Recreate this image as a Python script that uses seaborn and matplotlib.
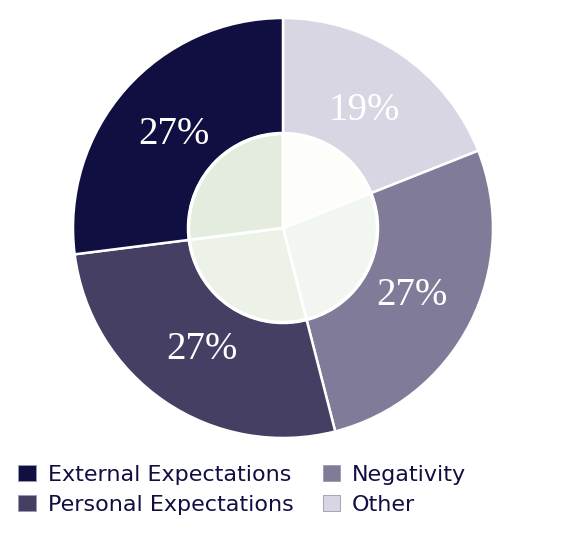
import matplotlib
matplotlib.use("Agg")
import matplotlib.pyplot as plt
import matplotlib.patches as mpatches
import seaborn as sns

# data, clockwise from 12 o'clock
categories = ["Other", "Negativity", "Personal Expectations", "External Expectations"]
shares = [19, 27, 27, 27]
inner_shares = [19, 27, 27, 27]
outer_colors = ["#d8d6e2", "#7f7b98", "#443f63", "#110e42"]
inner_colors = ["#fdfdfa", "#f2f6f0", "#ecf2e8", "#e4ecdf"]
legend_order = ["External Expectations", "Personal Expectations", "Negativity", "Other"]

sns.set_style("white")
plt.rcParams['font.family'] = ['DejaVu Sans']

fig = plt.figure(figsize=(5.8, 5.33), dpi=100)
ax = fig.add_axes([73 / 580, 95 / 533, 420 / 580, 420 / 533])

pal = sns.color_palette(outer_colors)
wedges, texts = ax.pie(shares, colors=pal, startangle=90, counterclock=False,
                       radius=1.0, labels=[f"{s}%" for s in shares], labeldistance=0.69,
                       wedgeprops=dict(edgecolor="white", linewidth=1.8),
                       textprops=dict(color="white", fontsize=28, family="Liberation Serif"))
for t in texts:
    t.set_ha("center")
    t.set_va("center")
    x, y = t.get_position()
    t.set_position((x, y - 0.01))

ax.pie(inner_shares, colors=sns.color_palette(inner_colors), startangle=90, counterclock=False,
       radius=0.45, wedgeprops=dict(edgecolor="white", linewidth=2))
ax.add_patch(mpatches.Circle((0, 0), 0.45, fill=False, edgecolor="white", linewidth=2.5))

ax.set_xlim(-1, 1)
ax.set_ylim(-1, 1)
ax.set_aspect("equal")
ax.axis("off")

color_of = dict(zip(categories, outer_colors))
handles = [mpatches.Patch(facecolor=color_of[c], edgecolor="#9b99ad", linewidth=0.6) for c in legend_order]
fig.legend(handles, legend_order, ncol=2, loc="lower left", bbox_to_anchor=(0.005, 0.005),
           frameon=False, fontsize=16, labelcolor="#110e42", handlelength=0.78, handleheight=0.78,
           handletextpad=0.55, columnspacing=1.3, labelspacing=0.45, borderpad=0.2)

fig.savefig("out.png", dpi=100, facecolor="white")
